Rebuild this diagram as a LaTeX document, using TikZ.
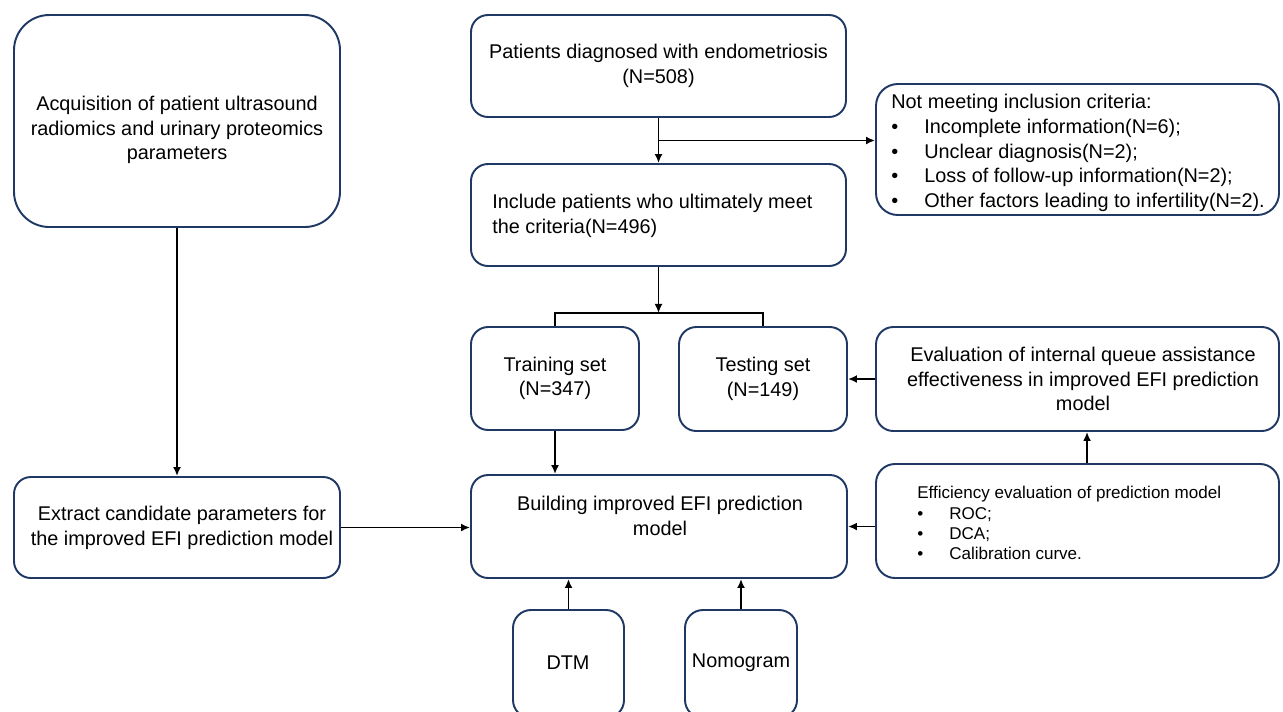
\documentclass[tikz,border=0pt]{standalone}
\usepackage{fontspec}
\setmainfont{Liberation Sans}
\usetikzlibrary{arrows.meta,calc}
\definecolor{boxblue}{RGB}{31,56,100}
\newcommand\mainfs{\fontsize{11.3}{13.9}\selectfont}
\newcommand\bul{\makebox[0.66cm][l]{•}}
% optional node options, name, x1, y1, x2, y2, text
\newcommand\rbox[7][]{%
  \pgfmathsetmacro\bw{(#5-#3)*0.02}%
  \pgfmathsetmacro\bh{(#6-#4)*0.02}%
  \pgfmathsetmacro\br{min(#5-#3,#6-#4)*0.1667*0.02}%
  \node[box, minimum width=\bw cm, minimum height=\bh cm, rounded corners=\br cm, #1]
    (#2) at ({(#3+#5)/2},{(#4+#6)/2}) {#7};%
}
\begin{document}
\begin{tikzpicture}[x=0.02cm,y=-0.02cm,
  box/.style={draw=boxblue, line width=1.1pt, inner sep=0pt, align=center, font=\mainfs},
  txt/.style={inner sep=0pt, font=\mainfs},
  arr/.style={draw=black, line width=1.1pt, -{Latex[length=1.8mm,width=1.6mm]}},
  conn/.style={draw=black, line width=1.1pt}]
\useasboundingbox (0,0) rectangle (1283,711);
\clip (0,0) rectangle (1283,711);

% boxes
\rbox{A}{14}{15}{340}{227}{}
\node[txt, align=center] (At) at (177,130)
  {Acquisition of patient ultrasound\\radiomics and urinary proteomics\\parameters};
\rbox{P}{471}{15}{846}{117}{Patients diagnosed with endometriosis\\(N=508)}
\rbox{N}{876}{84}{1279}{215}{}
\node[txt, align=left, anchor=west, font=\fontsize{11.3}{14}\selectfont] (Nt) at (891,153)
  {Not meeting inclusion criteria:\\
   \bul Incomplete information(N=6);\\
   \bul Unclear diagnosis(N=2);\\
   \bul Loss of follow-up information(N=2);\\
   \bul Other factors leading to infertility(N=2).};
\rbox{I}{471}{164}{846}{266}{}
\node[txt, align=left, anchor=west] (It) at (492,216)
  {Include patients who ultimately meet\\the criteria(N=496)};
\rbox{Tr}{471}{327}{639}{430}{Training set\\(N=347)}
\rbox{Te}{679}{327}{847}{431}{Testing set\\(N=149)}
\rbox{Ev}{876}{327}{1279}{431}{}
\node[txt, align=center] (Evt) at (1083,379)
  {Evaluation of internal queue assistance\\effectiveness in improved EFI prediction\\model};
\rbox{Ex}{14}{477}{340}{578}{}
\node[txt, align=center] (Ext) at (182,528)
  {Extract candidate parameters for\\the improved EFI prediction model};
\rbox{B}{471}{475}{847}{578}{}
\node[txt, align=center] (Bt) at (660,516)
  {Building improved EFI prediction\\model};
\rbox{Ef}{876}{464}{1279}{578}{}
\node[txt, align=left, anchor=west, font=\fontsize{9.7}{11.5}\selectfont] (Eft) at (917,523)
  {Efficiency evaluation of prediction model\\
   \makebox[0.64cm][l]{•}ROC;\\
   \makebox[0.64cm][l]{•}DCA;\\
   \makebox[0.64cm][l]{•}Calibration curve.};
\rbox{D}{513}{610}{624}{718}{}
\node[txt] (Dt) at (568,663) {DTM};
\rbox{Nm}{685}{610}{797}{718}{}
\node[txt] (Nmt) at (741,663) {Nomogram};

% connectors
\draw[arr] (A.south) -- (Ex.north);
\draw[arr] (P.south) -- (I.north);
\coordinate (br) at ($(P.south)!0.5!(I.north)$);
\draw[arr] (br) -- (br -| N.west);
\coordinate (fork) at ($(I.south)+(0,46)$);
\draw[arr] (I.south) -- (fork);
\draw[conn] (Tr.north) -- (Tr.north |- fork) -- (Te.north |- fork) -- (Te.north);
\draw[arr] (Tr.south) -- (Tr.south |- B.north);
\draw[arr] (Ev.west) -- (Ev.west -| Te.east);
\draw[arr] ($(Ef.north)+(9.5,0)$) -- ($(Ev.south)+(9.5,0)$);
\draw[arr] (Ef.west |- B.east) -- (B.east);
\draw[arr] (Ex.east) -- (Ex.east -| B.west);
\draw[arr] (D.north) -- (D.north |- B.south);
\draw[arr] (Nm.north) -- (Nm.north |- B.south);
\end{tikzpicture}
\end{document}
